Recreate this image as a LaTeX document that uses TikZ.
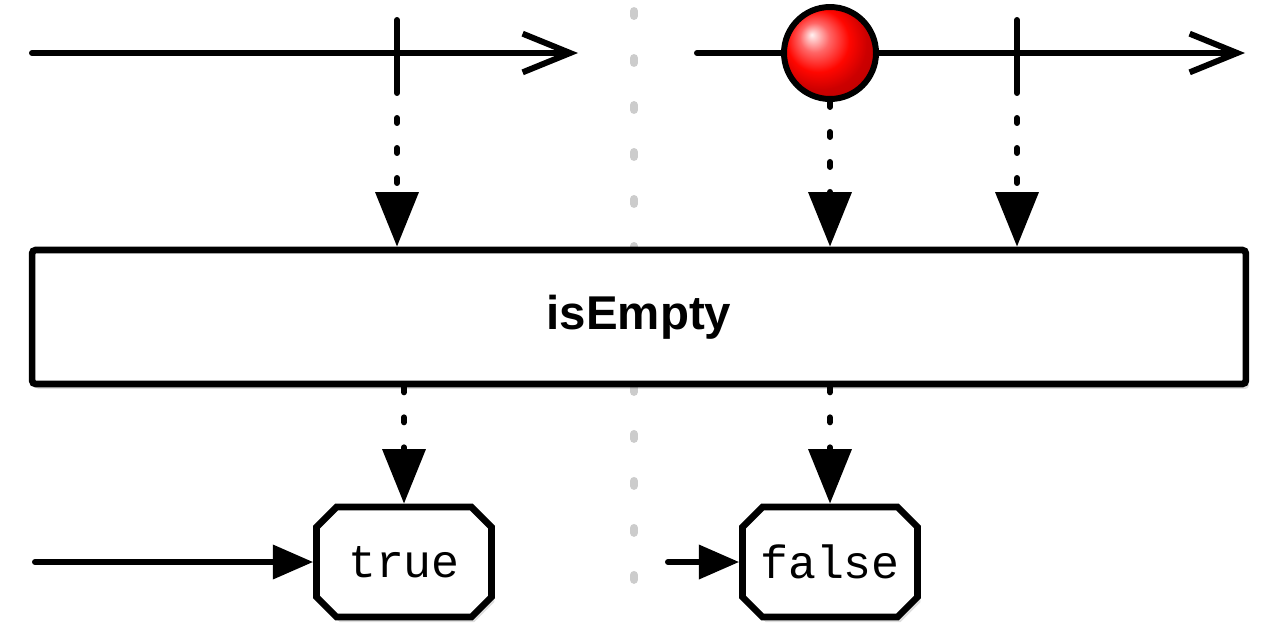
\documentclass[tikz,border=0pt]{standalone}
\usepackage{fontspec}
\setmainfont{Liberation Sans}
\setmonofont{Liberation Mono}
\usetikzlibrary{arrows.meta,shapes.misc,shadows}
\pgfdeclareradialshading{redball}{\pgfpoint{-10bp}{10bp}}{color(0bp)=(red!5!white); color(8bp)=(red!60!white); color(17bp)=(red!95!orange); color(25bp)=(red!80!black); color(50bp)=(red!60!black)}

\tikzset{
	timeline/.style={line width=3.4pt, line cap=round},
	dotline/.style={line width=3.4pt, line cap=round, dash pattern=on 0.1cm off 0.5cm},
	opbox/.style={draw, fill=white, line width=3.8pt, rounded corners=2pt, minimum width=24.28cm, minimum height=2.68cm, font=\fontsize{27}{30}\selectfont\bfseries, drop shadow={opacity=0.25, shadow xshift=0.06cm, shadow yshift=-0.1cm}},
	resbox/.style={draw, fill=white, line width=3.8pt, chamfered rectangle, chamfered rectangle xsep=0.2cm, chamfered rectangle ysep=0.2cm, minimum width=3.5cm, minimum height=2.2cm, inner sep=0pt, font=\ttfamily\fontsize{26.5}{30}\selectfont, drop shadow={opacity=0.25, shadow xshift=0.06cm, shadow yshift=-0.1cm}},
}

\begin{document}
\begin{tikzpicture}[x=0.02cm, y=-0.02cm]
		%%%%% START %%%%%
		\useasboundingbox (0, 0) rectangle (1280, 640);
		
		% separator
		\draw[line width=4.5pt, color=black!20, line cap=round, dash pattern=on 0.1cm off 0.84cm] (634, 11) -- (634, 600);
		
		% source, left
		\coordinate (srcA) at (32, 53);
		\coordinate (endA) at (578, 53);
		\coordinate (tickAt) at (397, 20);
		\coordinate (tickAb) at (397, 88);
		\draw[timeline, -{Straight Barb[length=27pt, width=22pt]}] (srcA) -- (endA);
		\draw[timeline] (tickAt) -- (tickAb);
		
		% source, right
		\coordinate (srcB) at (697, 53);
		\coordinate (endB) at (1245, 53);
		\coordinate (tickBt) at (1017, 20);
		\coordinate (tickBb) at (1017, 88);
		\draw[timeline, -{Straight Barb[length=27pt, width=22pt]}] (srcB) -- (endB);
		\draw[timeline] (tickBt) -- (tickBb);
		\node[circle, draw, line width=3.4pt, minimum size=1.84cm, shading=redball] (ball) at (830, 53) {};
		
		% operator
		\node[opbox] (op) at (639, 317) {isEmpty};
		
		\draw[dotline, -{Triangle[length=31pt, width=24pt]}] (tickAb) -- (tickAb |- op.north);
		\draw[dotline, -{Triangle[length=31pt, width=24pt]}] (ball.south) -- (ball.south |- op.north);
		\draw[dotline, -{Triangle[length=31pt, width=24pt]}] (tickBb) -- (tickBb |- op.north);
		
		% results
		\node[resbox] (true) at (404, 562) {true};
		\node[resbox] (false) at (830, 562) {false};
		
		\draw[dotline, -{Triangle[length=31pt, width=24pt]}] (true.north |- op.south) -- (true.north);
		\draw[dotline, -{Triangle[length=31pt, width=24pt]}] (false.north |- op.south) -- (false.north);
		
		\coordinate (srcC) at (35, 562);
		\coordinate (srcD) at (668, 562);
		\draw[timeline, -{Triangle[length=23pt, width=19pt]}] (srcC) -- (true.west);
		\draw[timeline, -{Triangle[length=23pt, width=19pt]}] (srcD) -- (false.west);
		
		%%%%% END %%%%%
	\end{tikzpicture}
\end{document}
